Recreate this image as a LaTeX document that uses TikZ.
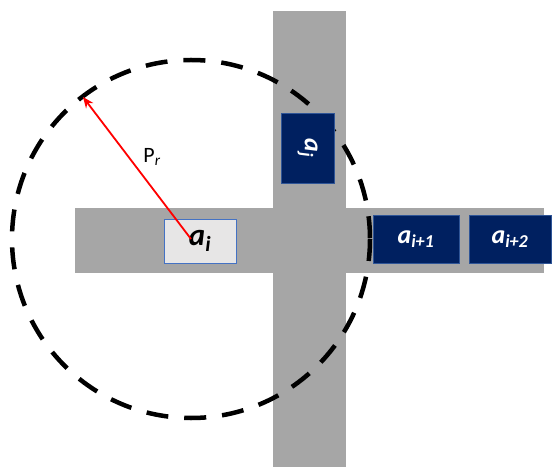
\documentclass[tikz,border=0pt]{standalone}
\usepackage{fontspec}
\setmainfont{Carlito}
\usetikzlibrary{arrows.meta}
\definecolor{roadgray}{HTML}{A6A6A6}
\definecolor{navy}{HTML}{002060}
\definecolor{navyedge}{HTML}{2F5597}
\definecolor{lightbox}{HTML}{E7E6E6}
\definecolor{lightedge}{HTML}{4472C4}
\newcommand{\agent}[1]{{\bfseries\itshape a}\textsubscript{\bfseries\itshape #1}}
\begin{document}
\begin{tikzpicture}[x=1bp,y=-1bp,
  road/.style={fill=roadgray,draw=none},
  commrange/.style={draw=black,line width=4.5bp,dash pattern=on 22bp off 16bp},
  egobox/.style={draw=lightedge,line width=0.9bp,fill=lightbox,inner sep=0pt,
    font=\fontsize{31}{34}\selectfont},
  carbox/.style={draw=navyedge,line width=0.9bp,fill=navy,text=white,inner sep=0pt,
    font=\fontsize{26}{30}\selectfont},
  radius arrow/.style={draw=red,line width=1.8bp,-{Stealth[length=11bp,width=9bp]}}]
\useasboundingbox (0,0) rectangle (552,467);
% crossing roads
\fill[road] (273,11) rectangle (346,467);
\fill[road] (75,208) rectangle (544,273);
% communication range
\coordinate (c) at (191,239);
\draw[commrange] (c) circle[radius=179];
% vehicles
\node[egobox,minimum width=72bp,minimum height=44bp] (ai) at (200,241) {\raisebox{-3bp}{\agent{i}}};
\node[carbox,rotate=-90,minimum width=70bp,minimum height=53bp] (aj) at (307.5,148) {\agent{j}};
\node[carbox,minimum width=86bp,minimum height=48bp] (ai1) at (416,239) {\agent{i+1}};
\node[carbox,minimum width=82bp,minimum height=48bp] (ai2) at (510,239) {\agent{i+2}};
% radius
\coordinate (rim) at (83,97);
\draw[radius arrow] (c) -- (rim);
\node[font=\fontsize{22}{26}\selectfont] (pr) at (152,157) {P\textsubscript{\itshape r}};
\end{tikzpicture}
\end{document}
